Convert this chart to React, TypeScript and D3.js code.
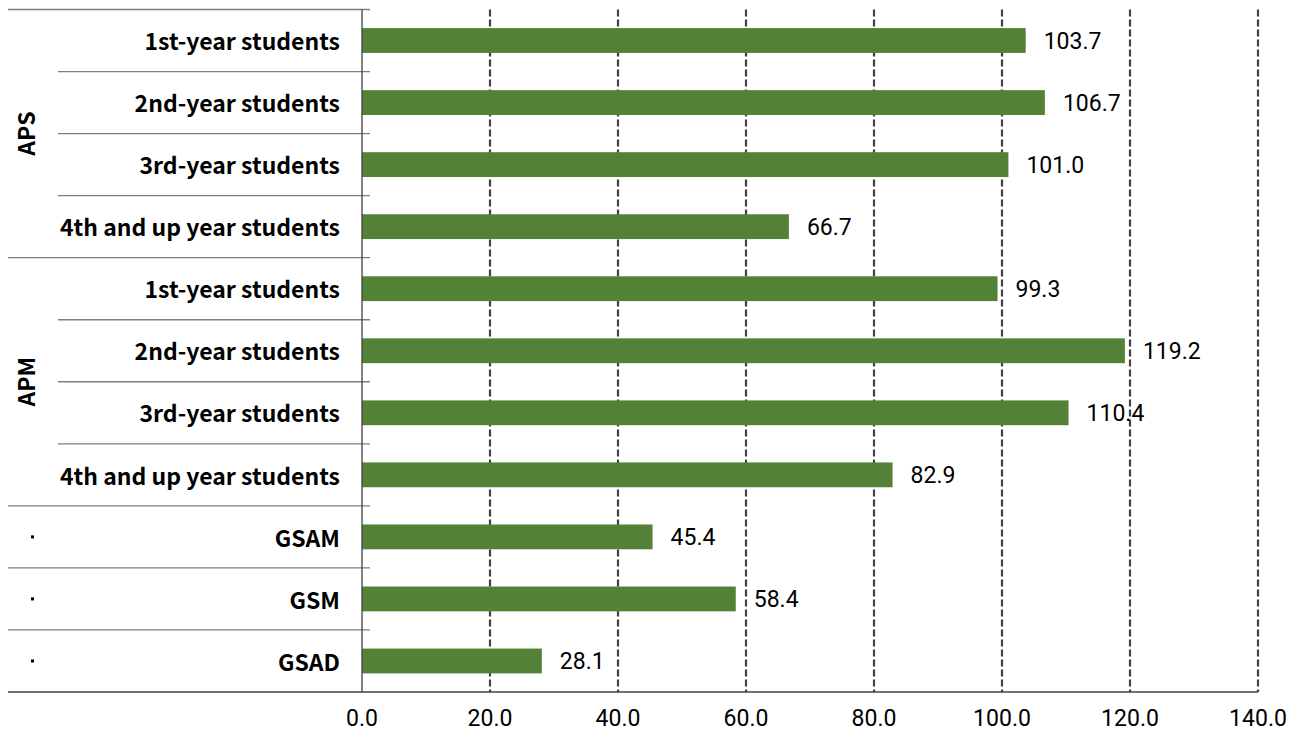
import { useEffect, useRef } from "react";
import * as d3 from "d3";

const groups = ["APS", "APS", "APS", "APS", "APM", "APM", "APM", "APM", "·", "·", "·"];
const categories = [
  "1st-year students",
  "2nd-year students",
  "3rd-year students",
  "4th and up year students",
  "1st-year students",
  "2nd-year students",
  "3rd-year students",
  "4th and up year students",
  "GSAM",
  "GSM",
  "GSAD",
];
const values = [103.7, 106.7, 101.0, 66.7, 99.3, 119.2, 110.4, 82.9, 45.4, 58.4, 28.1];
const xTicks = [0, 20, 40, 60, 80, 100, 120, 140];

export default function App() {
  const ref = useRef<SVGSVGElement>(null);

  useEffect(() => {
    const svg = d3.select(ref.current);
    svg.selectAll("*").remove();

    const top = 9.5;
    const bottom = 692;
    const left = 362;
    const right = 1258;
    const outerLeft = 8;

    const x = d3.scaleLinear().domain([0, 140]).range([left, right]);
    const idx = d3.range(categories.length);
    const y = d3.scaleBand<number>().domain(idx).range([top, bottom])
      .paddingInner(0.6).paddingOuter(0.3);
    const rowH = (bottom - top) / categories.length;

    // gridlines
    svg.append("g")
      .selectAll("line")
      .data(xTicks.filter(d => d > 0))
      .join("line")
      .attr("x1", d => x(d)).attr("x2", d => x(d))
      .attr("y1", top).attr("y2", bottom)
      .attr("stroke", "#404040")
      .attr("stroke-width", 2.2)
      .attr("stroke-dasharray", "7,3");

    // row separators
    const seps = d3.range(categories.length + 1);
    svg.append("g")
      .selectAll("line")
      .data(seps)
      .join("line")
      .attr("x1", i => (i === 0 || i === categories.length || groups[i] !== groups[i - 1] || groups[i] === "·") ? outerLeft : 58)
      .attr("x2", i => i === categories.length ? right : left + 8)
      .attr("y1", i => top + i * rowH).attr("y2", i => top + i * rowH)
      .attr("stroke", i => i === categories.length ? "#404040" : "#7f7f7f")
      .attr("stroke-width", 1.3);

    // bars
    svg.append("g")
      .selectAll("rect")
      .data(idx)
      .join("rect")
      .attr("x", x(0))
      .attr("y", i => y(i)!)
      .attr("width", i => x(values[i]) - x(0))
      .attr("height", y.bandwidth())
      .attr("fill", "#538135");

    // vertical axis line
    svg.append("line")
      .attr("x1", left).attr("x2", left)
      .attr("y1", top).attr("y2", bottom)
      .attr("stroke", "#404040").attr("stroke-width", 1.3);

    // value labels
    svg.append("g")
      .selectAll("text")
      .data(idx)
      .join("text")
      .attr("x", i => x(values[i]) + 18)
      .attr("y", i => y(i)! + y.bandwidth() / 2)
      .attr("dy", "0.36em")
      .attr("font-family", "Roboto, 'Liberation Sans', sans-serif")
      .attr("font-size", 23)
      .attr("fill", "#000")
      .text(i => values[i].toFixed(1));

    // category labels
    svg.append("g")
      .selectAll("text")
      .data(idx)
      .join("text")
      .attr("x", 340)
      .attr("y", i => top + (i + 0.5) * rowH)
      .attr("dy", "0.42em")
      .attr("text-anchor", "end")
      .attr("font-family", "'Noto Sans CJK JP', sans-serif")
      .attr("font-weight", "bold")
      .attr("font-size", 23)
      .text(i => categories[i]);

    // group labels
    const groupNames = Array.from(new Set(groups)).filter(g => g !== "·");
    groupNames.forEach(g => {
      const rows = idx.filter(i => groups[i] === g);
      const cy = top + ((rows[0] + rows[rows.length - 1] + 1) / 2) * rowH;
      svg.append("text")
        .attr("transform", `translate(27,${cy}) rotate(-90)`)
        .attr("dy", "0.36em")
        .attr("text-anchor", "middle")
        .attr("font-family", "'Noto Sans CJK JP', sans-serif")
        .attr("font-weight", "bold")
        .attr("font-size", 23)
        .text(g);
    });
    idx.filter(i => groups[i] === "·").forEach(i => {
      svg.append("rect")
        .attr("x", 31).attr("y", top + (i + 0.5) * rowH - 1.5)
        .attr("width", 3).attr("height", 3)
        .attr("fill", "#000");
    });

    // x tick labels
    svg.append("g")
      .selectAll("text")
      .data(xTicks)
      .join("text")
      .attr("x", d => x(d))
      .attr("y", 718)
      .attr("dy", "0.36em")
      .attr("text-anchor", "middle")
      .attr("font-family", "Roboto, 'Liberation Sans', sans-serif")
      .attr("font-size", 23)
      .text(d => d.toFixed(1));
  }, []);

  return (
    <svg
      ref={ref}
      width={1296}
      height={735}
      style={{ position: "absolute", left: 0, top: 0, background: "#fff" }}
    />
  );
}
